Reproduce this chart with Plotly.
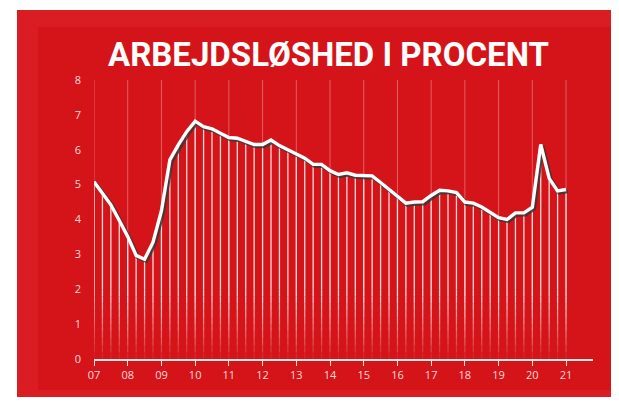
import plotly.graph_objects as go

# ---- data -------------------------------------------------------------
start_year = 2007
unemployment = [
    5.08, 4.75, 4.42, 3.97,
    3.51, 2.97, 2.86, 3.35,
    4.25, 5.71, 6.14, 6.52,
    6.82, 6.66, 6.60, 6.47,
    6.35, 6.33, 6.25, 6.15,
    6.15, 6.28, 6.12, 6.01,
    5.88, 5.76, 5.58, 5.58,
    5.40, 5.29, 5.34, 5.27,
    5.25, 5.25, 5.06, 4.86,
    4.67, 4.47, 4.50, 4.51,
    4.69, 4.84, 4.82, 4.77,
    4.50, 4.47, 4.36, 4.20,
    4.05, 4.00, 4.19, 4.19,
    4.35, 6.15, 5.18, 4.82,
    4.86,
]
quarters = [start_year + i / 4 for i in range(len(unemployment))]
tick_years = list(range(2007, 2022))
tick_labels = ["07", "08", "09", "10", "11", "12", "13", "14", "15", "16",
               "17", "18", "19", "20", "21"]
y_ticks = [0, 1, 2, 3, 4, 5, 6, 7, 8]
title_text = "ARBEJDSLØSHED I PROCENT"

# ---- geometry (pixels, page coordinates; page body has an 8px margin) --
OFF = 8
W, H = 619 - OFF, 404 - OFF
PL, PR, PT, PB = 94 - OFF, 593 - OFF, 80 - OFF, 359 - OFF   # plot area
x_range = [2007, 2021.8]
y_range = [0, 8]
px_per_x = (PR - PL) / (x_range[1] - x_range[0])
px_per_y = (PB - PT) / (y_range[1] - y_range[0])


def paper_x(page_px):
    return (page_px - OFF - PL) / (PR - PL)


def paper_y(page_py):
    return (PB - (page_py - OFF)) / (PB - PT)


fig = go.Figure()

# ---- fading vertical lines (drop lines + year grid) -------------------
fade_top = 2.0
n_bands = 10
edges = [fade_top * k / n_bands for k in range(n_bands + 1)]


def add_faded_lines(xs, tops, max_op, width):
    bands = [(edges[k], edges[k + 1]) for k in range(n_bands)] + [(fade_top, 99)]
    for lo, hi in bands:
        mid = (lo + hi) / 2 if hi < 99 else fade_top
        op = max_op * min(1.0, 0.04 + mid / fade_top)
        bx, by = [], []
        for x, t in zip(xs, tops):
            if t <= lo:
                continue
            bx += [x, x, None]
            by += [lo, min(hi, t), None]
        if bx:
            fig.add_trace(go.Scatter(
                x=bx, y=by, mode="lines",
                line=dict(color=f"rgba(255,255,255,{op:.3f})", width=width),
                hoverinfo="skip", showlegend=False))


add_faded_lines(tick_years, [y_range[1]] * len(tick_years), 0.32, 1)
add_faded_lines(quarters, unemployment, 0.85, 1.3)

# ---- shadow (on shifted overlay axes) ---------------------------------
shift_px = 1.6
fig.add_trace(go.Scatter(
    x=quarters, y=unemployment, mode="lines", xaxis="x2", yaxis="y2",
    line=dict(color="rgba(55,55,55,0.85)", width=4.2),
    hoverinfo="skip", showlegend=False))

# ---- main line (top overlay axes, same scale as base) -----------------
fig.add_trace(go.Scatter(
    x=quarters, y=unemployment, mode="lines", xaxis="x3", yaxis="y3",
    line=dict(color="white", width=3.4),
    showlegend=False))

# ---- background panels ------------------------------------------------
shapes = [
    dict(type="rect", xref="paper", yref="paper", layer="below",
         x0=paper_x(17), x1=paper_x(619), y0=paper_y(397), y1=paper_y(10),
         fillcolor="#D91D23", line=dict(width=0)),
    dict(type="rect", xref="paper", yref="paper", layer="below",
         x0=paper_x(38), x1=paper_x(611), y0=paper_y(390), y1=paper_y(27),
         fillcolor="#D41418", line=dict(width=0)),
]

label_font = dict(family="Open Sans, DejaVu Sans, sans-serif", size=11,
                  color="#FBDCDD")

fig.update_layout(
    width=W, height=H, autosize=False,
    margin=dict(l=PL, r=W - PR, t=PT, b=H - PB, pad=0),
    paper_bgcolor="white", plot_bgcolor="rgba(0,0,0,0)",
    shapes=shapes,
    xaxis=dict(range=x_range, tickvals=tick_years, ticktext=tick_labels,
               showgrid=False, zeroline=False, showline=True,
               linecolor="rgba(255,255,255,0.9)", linewidth=1.5,
               ticks="outside", ticklen=5, tickwidth=1.2,
               tickcolor="rgba(255,255,255,0.9)",
               tickfont=label_font, fixedrange=True),
    yaxis=dict(range=y_range, tickvals=y_ticks,
               showgrid=False, zeroline=False, showline=False,
               ticks="", ticklabelstandoff=12,
               tickfont=label_font, fixedrange=True),
    xaxis2=dict(range=[x_range[0] - shift_px / px_per_x,
                       x_range[1] - shift_px / px_per_x],
                overlaying="x", visible=False, fixedrange=True),
    yaxis2=dict(range=[y_range[0] + shift_px / px_per_y,
                       y_range[1] + shift_px / px_per_y],
                overlaying="y", visible=False, fixedrange=True),
    xaxis3=dict(range=x_range, overlaying="x", visible=False, fixedrange=True),
    yaxis3=dict(range=y_range, overlaying="y", visible=False, fixedrange=True),
    annotations=[dict(
        text=f"<b>{title_text}</b>", xref="paper", yref="paper",
        x=paper_x(328), y=paper_y(55), xanchor="center", yanchor="middle",
        showarrow=False,
        font=dict(family="Roboto, Lato, sans-serif", size=33, color="white"))],
)

fig.write_html("out.html")
